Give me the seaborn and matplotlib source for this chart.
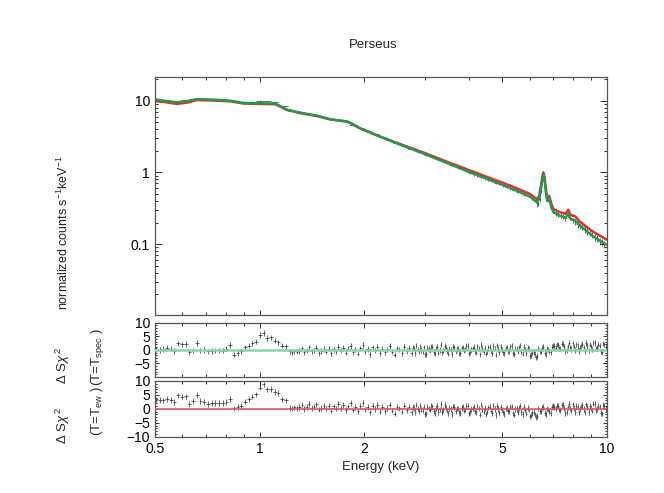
import numpy as np
import pandas as pd
import matplotlib
matplotlib.use('Agg')
import matplotlib.pyplot as plt
import seaborn as sns
from matplotlib.ticker import FixedLocator, FixedFormatter, NullFormatter

sns.set_theme(style='ticks')
plt.rcParams['font.family'] = ['Liberation Sans', 'DejaVu Sans']
plt.rcParams['mathtext.fontset'] = 'custom'
plt.rcParams['mathtext.rm'] = 'Liberation Sans'
plt.rcParams['mathtext.it'] = 'Liberation Sans:italic'

# modelo (T = T_spec, verde) e (T = T_ew, vermelho)
model_e = [0.50, 0.53, 0.578, 0.62, 0.66, 0.75, 0.82, 0.90, 1.00, 1.11, 1.20, 1.31, 1.46, 1.60,
           1.78, 1.83, 1.95, 2.17, 2.5, 3.0, 3.5, 4.0, 4.5, 5.0, 5.5, 6.0, 6.30, 6.38, 6.45, 6.51,
           6.56, 6.61, 6.66, 6.73, 6.82, 6.92, 7.01, 7.3, 7.6, 7.74, 7.85, 8.09, 8.37, 9.1, 10.0]
green_f = [10.4, 10.0, 9.5, 9.9, 10.5, 10.3, 10.0, 9.3, 9.2, 9.1, 7.5, 6.8, 6.2, 5.5,
           5.15, 4.9, 4.1, 3.3, 2.5, 1.79, 1.32, 1.02, 0.82, 0.67, 0.555, 0.46, 0.38, 0.43, 0.56, 0.78,
           0.93, 0.80, 0.56, 0.40, 0.43, 0.32, 0.28, 0.25, 0.235, 0.265, 0.225, 0.215, 0.18, 0.13, 0.097]
red_f = [9.8, 9.6, 9.0, 9.4, 10.2, 10.0, 9.8, 9.1, 9.0, 8.9, 7.4, 6.7, 6.1, 5.45,
         5.1, 4.85, 4.1, 3.3, 2.55, 1.85, 1.38, 1.08, 0.87, 0.72, 0.60, 0.50, 0.42, 0.47, 0.62, 0.85,
         1.0, 0.87, 0.62, 0.44, 0.47, 0.36, 0.31, 0.28, 0.265, 0.30, 0.255, 0.245, 0.205, 0.15, 0.115]

# espectro observado
spec_e = [0.503, 0.529, 0.555, 0.583, 0.613, 0.644, 0.676, 0.710, 0.746, 0.784, 0.823, 0.865,
          0.908, 0.954, 1.002, 1.053, 1.106, 1.162, 1.260, 1.323, 1.389, 1.458, 1.530, 1.606,
          1.686, 1.770, 1.858, 1.950, 2.047, 2.149, 2.256, 2.368, 2.486, 2.610, 2.739, 2.80,
          2.876, 2.95, 3.018, 3.09, 3.169, 3.25, 3.326, 3.41, 3.491, 3.58, 3.665, 3.76,
          3.847, 3.94, 4.038, 4.14, 4.239, 4.34, 4.450, 4.56, 4.671, 4.79, 4.903, 5.03,
          5.147, 5.27, 5.404, 5.54, 5.672, 5.81, 5.954, 6.10, 6.250, 6.30, 6.352, 6.40,
          6.456, 6.51, 6.561, 6.61, 6.668, 6.72, 6.777, 6.83, 6.888, 6.94, 7.000, 7.11,
          7.230, 7.35, 7.468, 7.59, 7.714, 7.84, 7.967, 8.10, 8.229, 8.36, 8.500, 8.64,
          8.780, 8.92, 9.068, 9.22, 9.367, 9.52, 9.675, 9.833]
spec_f = [10.4, 10.1, 9.7, 9.85, 10.05, 10.2, 10.5, 10.35, 10.3, 10.15, 10.3, 9.5,
          9.4, 9.6, 9.95, 9.75, 9.55, 8.4, 7.15, 6.75, 6.45, 6.2, 5.85, 5.5,
          5.35, 5.15, 4.55, 4.1, 3.8, 3.4, 3.1, 2.85, 2.55, 2.35, 2.15, 2.05,
          1.93, 1.86, 1.76, 1.68, 1.62, 1.53, 1.47, 1.40, 1.33, 1.26, 1.21, 1.15,
          1.10, 1.04, 0.99, 0.94, 0.91, 0.87, 0.83, 0.79, 0.76, 0.72, 0.69, 0.66,
          0.63, 0.60, 0.57, 0.54, 0.52, 0.49, 0.47, 0.44, 0.40, 0.36, 0.37, 0.42,
          0.55, 0.75, 0.94, 0.85, 0.58, 0.44, 0.42, 0.43, 0.38, 0.33, 0.29, 0.27,
          0.26, 0.25, 0.245, 0.23, 0.26, 0.235, 0.215, 0.205, 0.19, 0.18, 0.175, 0.16,
          0.15, 0.145, 0.135, 0.125, 0.12, 0.11, 0.105, 0.10]

# residuos (mesmos canais para os dois modelos)
res_e = [0.503, 0.516, 0.529, 0.542, 0.555, 0.569, 0.583, 0.598, 0.613, 0.628, 0.644, 0.660,
         0.676, 0.693, 0.710, 0.728, 0.746, 0.765, 0.784, 0.803, 0.823, 0.844, 0.865, 0.886,
         0.908, 0.931, 0.954, 0.978, 1.002, 1.027, 1.053, 1.079, 1.106, 1.133, 1.162, 1.191,
         1.220, 1.240, 1.260, 1.281, 1.302, 1.323, 1.344, 1.366, 1.389, 1.411,
         1.434, 1.458, 1.482, 1.506, 1.530, 1.555, 1.581, 1.606, 1.633, 1.659,
         1.686, 1.714, 1.742, 1.770, 1.799, 1.828, 1.858, 1.888, 1.919, 1.950,
         1.982, 2.014, 2.047, 2.081, 2.115, 2.149, 2.184, 2.220, 2.256, 2.293,
         2.330, 2.368, 2.407, 2.446, 2.486, 2.527, 2.568, 2.610, 2.652, 2.695,
         2.739, 2.784, 2.829, 2.876, 2.922, 2.970, 3.018, 3.068, 3.118, 3.169,
         3.220, 3.273, 3.326, 3.380, 3.435, 3.491, 3.548, 3.606, 3.665, 3.725,
         3.785, 3.847, 3.910, 3.973, 4.038, 4.104, 4.171, 4.239, 4.308, 4.378,
         4.450, 4.522, 4.596, 4.671, 4.747, 4.825, 4.903, 4.983, 5.065, 5.147,
         5.231, 5.317, 5.404, 5.492, 5.581, 5.672, 5.765, 5.859, 5.954, 6.051,
         6.150, 6.250, 6.352, 6.456, 6.561, 6.668, 6.777, 6.888, 7.000, 7.114,
         7.230, 7.348, 7.468, 7.590, 7.714, 7.840, 7.967, 8.097, 8.229, 8.364,
         8.500, 8.639, 8.780, 8.923, 9.068, 9.216, 9.367, 9.519, 9.675, 9.833]
res_spec = [0.1, 0.0, 0.3, 0.7, 0.4, -0.4, 2.4, 2.0, 2.1, -0.9, -0.2, 2.5,
            -0.2, 0.0, -0.6, -0.4, -0.2, -0.2, -0.3, 0.4, 1.8, -1.8, -1.2, -0.6,
            0.9, 1.6, 2.4, 3.0, 5.4, 6.2, 4.4, 4.6, 3.4, 2.8, 1.6, 1.3,
            -0.6, -0.8, -0.5, -0.7, -0.4, 0.6, -0.9, -0.3, 0.9, -0.5,
            -0.2, 0.8, -1.1, -0.4, 0.3, -0.7, 0.5, -1.3, 0.2, -0.6,
            1.2, -0.3, 0.7, -1.0, 0.4, 1.5, -0.8, 0.1, -1.4, 0.6,
            1.8, -0.5, 0.3, -1.6, 0.9, -0.2, 1.1, -1.2, 0.5, -0.9,
            0.2, 1.4, -0.7, -1.8, 0.6, 0.1, -1.1, 1.0, -0.4, 0.8,
            -1.3, 0.4, 1.6, -0.6, -0.1, 0.9, -1.5, 0.3, 1.2, -0.8,
            0.5, -1.0, 1.9, -0.3, 0.7, -1.4, 0.2, 1.1, -0.6, 0.4,
            -1.2, 0.9, 0.1, 1.5, -0.9, 0.6, -0.4, 1.3, -1.7, 0.3,
            0.8, -0.6, 1.2, -1.1, 0.4, 1.7, -0.8, 0.2, -1.3, 0.9,
            -0.4, 1.4, -1.6, 0.5, 0.9, -0.7, 1.1, -1.2, 0.3, -1.9,
            -0.8, -2.8, 0.6, -0.4, 1.0, -1.5, 0.2, -0.9, 1.6, 0.7,
            1.8, 0.4, 2.1, -0.6, 1.3, 0.9, 2.4, -0.3, 1.5, 0.8,
            2.2, -0.5, 1.4, 1.9, 0.2, 2.6, 0.7, 1.6, -0.8, 2.0]
res_ew = [3.4, 3.1, 3.0, 3.6, 3.2, 2.4, 4.8, 4.4, 4.5, 1.8, 2.7, 4.9,
          2.9, 2.4, 1.7, 2.0, 2.0, 2.0, 2.1, 2.4, 3.6, 0.2, 0.6, 1.1,
          2.6, 3.4, 4.4, 5.2, 7.6, 8.8, 7.0, 7.1, 6.0, 5.6, 3.4, 3.0,
          0.3, 0.1, 0.5, 0.2, 0.6, 1.5, 0.0, 0.6, 1.7, 0.3,
          0.6, 1.6, -0.3, 0.4, 1.1, 0.1, 1.2, -0.6, 0.9, 0.1,
          1.8, 0.3, 1.3, -0.4, 0.9, 2.0, -0.3, 0.6, -0.9, 1.0,
          2.1, -0.2, 0.6, -1.3, 1.1, 0.0, 1.3, -1.0, 0.7, -0.7,
          0.3, 1.5, -0.6, -1.7, 0.7, 0.2, -1.0, 1.0, -0.4, 0.8,
          -1.3, 0.4, 1.5, -0.7, -0.2, 0.8, -1.6, 0.2, 1.1, -0.9,
          0.3, -1.2, 1.7, -0.5, 0.5, -1.6, 0.0, 0.8, -0.9, 0.1,
          -1.5, 0.6, -0.2, 1.2, -1.2, 0.2, -0.8, 0.9, -2.1, -0.1,
          0.4, -1.0, 0.8, -1.5, 0.0, 1.2, -1.3, -0.3, -1.8, 0.4,
          -0.9, 0.9, -2.1, 0.0, 0.4, -1.2, 0.6, -1.7, -0.2, -2.3,
          -1.2, -3.0, 0.2, -0.7, 0.6, -1.8, -0.3, -1.4, 1.0, 0.1,
          1.0, -0.4, 1.3, -1.4, 0.5, 0.1, 1.6, -1.1, 0.7, 0.0,
          1.4, -1.3, 0.6, 1.1, -0.6, 1.8, -0.1, 0.8, -1.6, 1.2]

# canais intermediarios acima de 2.7 keV (regiao mais densa)
res_e_extra = [2.761, 2.806, 2.852, 2.899, 2.946, 2.994, 3.043, 3.093, 3.143, 3.194,
               3.246, 3.299, 3.353, 3.407, 3.463, 3.519, 3.577, 3.635, 3.695, 3.755,
               3.816, 3.878, 3.941, 4.005, 4.071, 4.137, 4.205, 4.273, 4.343, 4.414,
               4.486, 4.559, 4.633, 4.709, 4.786, 4.864, 4.943, 5.024, 5.106, 5.189,
               5.274, 5.360, 5.448, 5.536, 5.626, 5.718, 5.812, 5.906, 6.002, 6.100,
               6.200, 6.301, 6.404, 6.508, 6.614, 6.722, 6.832, 6.944, 7.057, 7.172,
               7.289, 7.408, 7.529, 7.652, 7.777, 7.904, 8.032, 8.163, 8.296, 8.432,
               8.569, 8.709, 8.851, 8.995, 9.142, 9.291, 9.443, 9.596, 9.754, 9.913]
res_spec_extra = [0.7, -1.1, 0.2, 1.3, -0.5, -1.7, 0.8, -0.2, 1.0, -1.4,
                  1.2, 0.0, -0.9, 1.6, -0.4, 0.5, -1.6, 0.9, 0.3, -1.1,
                  0.6, -0.3, 1.4, -1.3, 0.2, 1.0, -1.0, 0.4, 1.8, -0.7,
                  -1.4, 0.9, -0.2, 1.5, -1.8, 0.3, 1.1, -0.9, 0.6, -0.5,
                  1.3, -1.1, 0.4, -0.6, 1.7, -1.4, 0.2, 0.8, -2.2, -1.0,
                  -1.6, -2.2, -0.5, 0.8, -1.2, 0.4, -0.7, 1.1, 1.4, 2.0,
                  0.6, 2.3, 1.1, -0.2, 2.7, 0.3, 1.2, 2.0, -0.4, 1.7,
                  0.9, 2.5, -0.2, 1.3, 2.8, 0.4, 1.9, -0.6, 2.3, 1.0]
res_ew_extra = [0.6, -1.2, 0.1, 1.2, -0.6, -1.8, 0.7, -0.3, 0.9, -1.5,
                1.0, -0.2, -1.1, 1.4, -0.6, 0.3, -1.8, 0.7, 0.1, -1.3,
                0.3, -0.6, 1.1, -1.6, -0.1, 0.7, -1.3, 0.1, 1.5, -1.0,
                -1.8, 0.5, -0.6, 1.1, -2.2, -0.1, 0.7, -1.3, 0.2, -0.9,
                0.8, -1.6, -0.1, -1.1, 1.2, -1.9, -0.3, 0.3, -2.7, -1.5,
                -2.0, -2.5, -0.9, 0.5, -1.5, 0.1, -1.0, 0.6, 0.7, 1.2,
                -0.3, 1.4, 0.2, -1.1, 1.8, -0.6, 0.3, 1.1, -1.3, 0.8,
                0.0, 1.6, -1.1, 0.4, 1.9, -0.5, 1.0, -1.5, 1.4, 0.1]

RED = '#e3302d'
GREEN = '#1c9c4f'


def bin_halfwidths(e):
    e = np.asarray(e)
    mid = np.sqrt(e[:-1] * e[1:])
    left = np.concatenate([[e[0] ** 2 / mid[0]], mid])
    right = np.concatenate([mid, [e[-1] ** 2 / mid[-1]]])
    return np.vstack([e - left, right - e])


def style_axis(ax):
    ax.set_xscale('log')
    ax.set_xlim(0.5, 10)
    for s in ax.spines.values():
        s.set_color('#555555')
        s.set_linewidth(0.9)
    ax.tick_params(which='both', direction='in', top=True, right=True,
                   colors='#333333', labelcolor='black', labelsize=10, width=0.7)
    ax.xaxis.set_major_locator(FixedLocator([0.5, 1, 2, 5, 10]))
    ax.xaxis.set_minor_locator(FixedLocator([0.6, 0.7, 0.8, 0.9, 3, 4, 6, 7, 8, 9]))
    ax.xaxis.set_minor_formatter(NullFormatter())
    ax.tick_params(axis='x', which='major', length=3.3)
    ax.tick_params(axis='x', which='minor', length=2.3)
    ax.set_xlabel('')
    ax.set_ylabel('')


fig = plt.figure(figsize=(6.64, 4.93), dpi=100)
ax0 = fig.add_axes([0.2334, 0.3611, 0.6807, 0.4817])
ax1 = fig.add_axes([0.2334, 0.2353, 0.6807, 0.1101])
ax2 = fig.add_axes([0.2334, 0.1142, 0.6807, 0.1130])

# painel principal
spec_e_arr = np.array(spec_e)
relerr = np.select([spec_e_arr < 2, spec_e_arr < 4, spec_e_arr < 6, spec_e_arr < 8],
                   [0.015, 0.025, 0.045, 0.075], 0.11)
ax0.errorbar(spec_e, spec_f, xerr=bin_halfwidths(spec_e), yerr=np.array(spec_f) * relerr,
             fmt='none', ecolor='#222222', elinewidth=0.6, alpha=0.8)
df_model = pd.DataFrame({'energy': model_e, 'red': red_f, 'green': green_f})
sns.lineplot(data=df_model, x='energy', y='red', ax=ax0, color=RED, lw=1.8)
sns.lineplot(data=df_model, x='energy', y='green', ax=ax0, color=GREEN, lw=1.7)
style_axis(ax0)
ax0.set_yscale('log')
ax0.set_ylim(0.0103, 21)
ax0.yaxis.set_major_locator(FixedLocator([0.1, 1, 10]))
ax0.yaxis.set_major_formatter(FixedFormatter(['0.1', '1', '10']))
ax0.yaxis.set_minor_locator(FixedLocator([m * d for d in (0.01, 0.1, 1, 10) for m in range(2, 10)]))
ax0.yaxis.set_minor_formatter(NullFormatter())
ax0.tick_params(axis='y', which='major', length=5)
ax0.tick_params(axis='y', which='minor', length=2)
ax0.tick_params(axis='x', labelbottom=False)

# residuos
df_res = pd.DataFrame({'energy': res_e + res_e_extra,
                       'spec': res_spec + res_spec_extra,
                       'ew': res_ew + res_ew_extra}).sort_values('energy')
xerr_res = bin_halfwidths(df_res['energy'])
for ax, col, zcol, zlw, ticks in [(ax1, 'spec', '#86d6a2', 1.8, [-5, 0, 5, 10]),
                                   (ax2, 'ew', '#e05a5a', 1.2, [-10, -5, 0, 5, 10])]:
    ax.errorbar(df_res['energy'], df_res[col], xerr=xerr_res, yerr=1.0, fmt='none',
                ecolor='#222222', elinewidth=0.6, alpha=0.8)
    ax.axhline(0, color=zcol, lw=zlw, zorder=3)
    style_axis(ax)
    ax.set_ylim(-10, 10)
    ax.yaxis.set_major_locator(FixedLocator(ticks))
    ax.yaxis.set_major_formatter(FixedFormatter([str(t).replace('-', '\u2212') for t in ticks]))
    ax.yaxis.set_minor_locator(FixedLocator(range(-10, 11)))
    ax.tick_params(axis='y', which='major', length=3)
    ax.tick_params(axis='y', which='minor', length=1.5)

ax1.tick_params(axis='x', labelbottom=False)
ax2.xaxis.set_major_formatter(FixedFormatter(['0.5', '1', '2', '5', '10']))

# textos
fig.text(373 / 664, 1 - 45 / 493, 'Perseus', ha='center', va='center', fontsize=9.5)
fig.text(381 / 664, 1 - 467 / 493, 'Energy (keV)', ha='center', va='center', fontsize=9.5)
fig.text(63 / 664, 1 - 233 / 493, r'normalized counts s$^{-1}$keV$^{-1}$',
         rotation=90, ha='center', va='center', fontsize=9)
fig.text(63 / 664, 1 - 365 / 493, r'$\Delta$ S$\chi^{\,2}$', rotation=90,
         ha='center', va='center', fontsize=9.5)
fig.text(63 / 664, 1 - 425 / 493, r'$\Delta$ S$\chi^{\,2}$', rotation=90,
         ha='center', va='center', fontsize=9.5)
fig.text(97 / 664, 1 - 357 / 493, r'(T=T$_{\mathrm{spec}}$ )', rotation=90,
         ha='center', va='center', fontsize=9.5)
fig.text(97 / 664, 1 - 411 / 493, r'(T=T$_{\mathrm{ew}}$ )', rotation=90,
         ha='center', va='center', fontsize=9.5)

fig.savefig('out.png', dpi=100)
